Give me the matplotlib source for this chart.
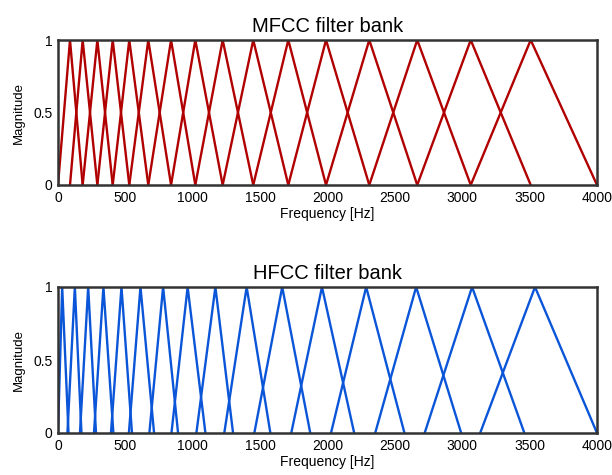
import numpy as np
import matplotlib
matplotlib.use('Agg')
import matplotlib.pyplot as plt

plt.rcParams['font.family'] = ['Liberation Sans', 'DejaVu Sans']

# MFCC filter peaks (Hz), filters go from one peak to the next
mfcc_peaks = [89, 183, 292, 406, 529, 670, 839, 1019, 1222, 1449,
              1709, 1989, 2310, 2666, 3063, 3508]
mfcc_lo = 0
mfcc_hi = 4000

# HFCC filters: start, peak, end (Hz)
hfcc_start = [0, 70, 163, 267, 393, 526, 678, 842, 1027, 1234,
              1457, 1731, 2026, 2354, 2721, 3133]
hfcc_peak = [31, 125, 224, 337, 471, 612, 780, 962, 1168, 1400,
             1664, 1959, 2287, 2658, 3073, 3540]
hfcc_end = [78, 174, 282, 411, 549, 713, 891, 1094, 1299, 1576,
            1872, 2198, 2571, 2992, 3461, 4000]

xticks = [0, 500, 1000, 1500, 2000, 2500, 3000, 3500, 4000]
yticks = [0, 0.5, 1]
ytick_labels = ['0', '0.5', '1']

red = '#b00000'
blue = '#0a55d8'

fig = plt.figure(figsize=(6.12, 4.75), dpi=100)
ax1 = fig.add_axes([58/612, 1-185/475, 539/612, 145/475])
ax2 = fig.add_axes([58/612, 1-433/475, 539/612, 146/475])

edges = [mfcc_lo] + mfcc_peaks + [mfcc_hi]
for i in range(len(mfcc_peaks)):
    ax1.plot([edges[i], edges[i+1], edges[i+2]], [0, 1, 0], color=red, lw=1.7)

for s, p, e in zip(hfcc_start, hfcc_peak, hfcc_end):
    ax2.plot([s, p, e], [0, 1, 0], color=blue, lw=1.7)

for ax, title in [(ax1, 'MFCC filter bank'), (ax2, 'HFCC filter bank')]:
    ax.set_xlim(0, 4000)
    ax.set_ylim(0, 1)
    ax.set_xticks(xticks)
    ax.set_xticklabels([str(t) for t in xticks])
    ax.set_yticks(yticks)
    ax.set_yticklabels(ytick_labels)
    ax.tick_params(length=0, labelsize=10, pad=4, colors='black')
    for sp in ax.spines.values():
        sp.set_linewidth(1.8)
        sp.set_color('#333333')
    ax.set_xlabel('Frequency [Hz]', fontsize=10, labelpad=2)
    ax.set_ylabel('Magnitude', fontsize=9.5, labelpad=6)
    ax.set_title(title, fontsize=14.5, pad=6)

plt.savefig('out.png', dpi=100)
